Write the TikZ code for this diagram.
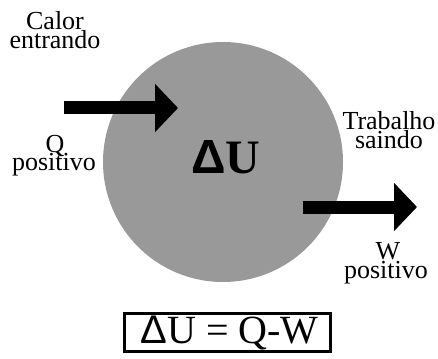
\documentclass[tikz,border=0pt]{standalone}
\usepackage{fontspec}
\setmainfont{Liberation Serif}
\newfontfamily\deltafont{Liberation Sans}
\usetikzlibrary{arrows.meta}
\definecolor{sysgray}{HTML}{999999}

\begin{document}
\begin{tikzpicture}[x=1pt, y=-1pt,
    txt/.style={anchor=base, font=\fontsize{26}{26}\selectfont, inner sep=0pt},
    flow/.style={line width=13pt, -{Triangle[length=23pt,width=47pt]}}]
  \useasboundingbox (0,0) rectangle (438,358);
  % the system and its internal energy
  \node[circle, fill=sysgray, minimum size=240pt, inner sep=0pt] (sys) at (223,162) {};
  \node[anchor=base, font=\fontsize{48}{48}\selectfont\bfseries, inner sep=0pt] (du) at (226,173) {{\deltafont Δ}U};
  % heat going in
  \coordinate (qstart) at (64,108);
  \coordinate (qend) at (178,108);
  \draw[flow] (qstart) -- (qend);
  \node[txt] (calor) at (55,30) {Calor};
  \node[txt] (entra) at (55,49) {entrando};
  \node[txt] (q) at (55,152) {Q};
  \node[txt] (qpos) at (54,170) {positivo};
  % work going out
  \coordinate (wstart) at (303,207);
  \coordinate (wend) at (417,207);
  \draw[flow] (wstart) -- (wend);
  \node[txt] (trab) at (389,129) {Trabalho};
  \node[txt] (sai) at (389,148) {saindo};
  \node[txt] (w) at (388,259) {W};
  \node[txt] (wpos) at (386,278) {positivo};
  % first law
  \node[draw, line width=3pt, minimum width=206pt, minimum height=38pt, inner sep=0pt,
        font=\fontsize{40}{40}\selectfont] (law) at (227.5,332.5) {\hspace{4pt}{\deltafont Δ}U = Q-W};
\end{tikzpicture}
\end{document}
